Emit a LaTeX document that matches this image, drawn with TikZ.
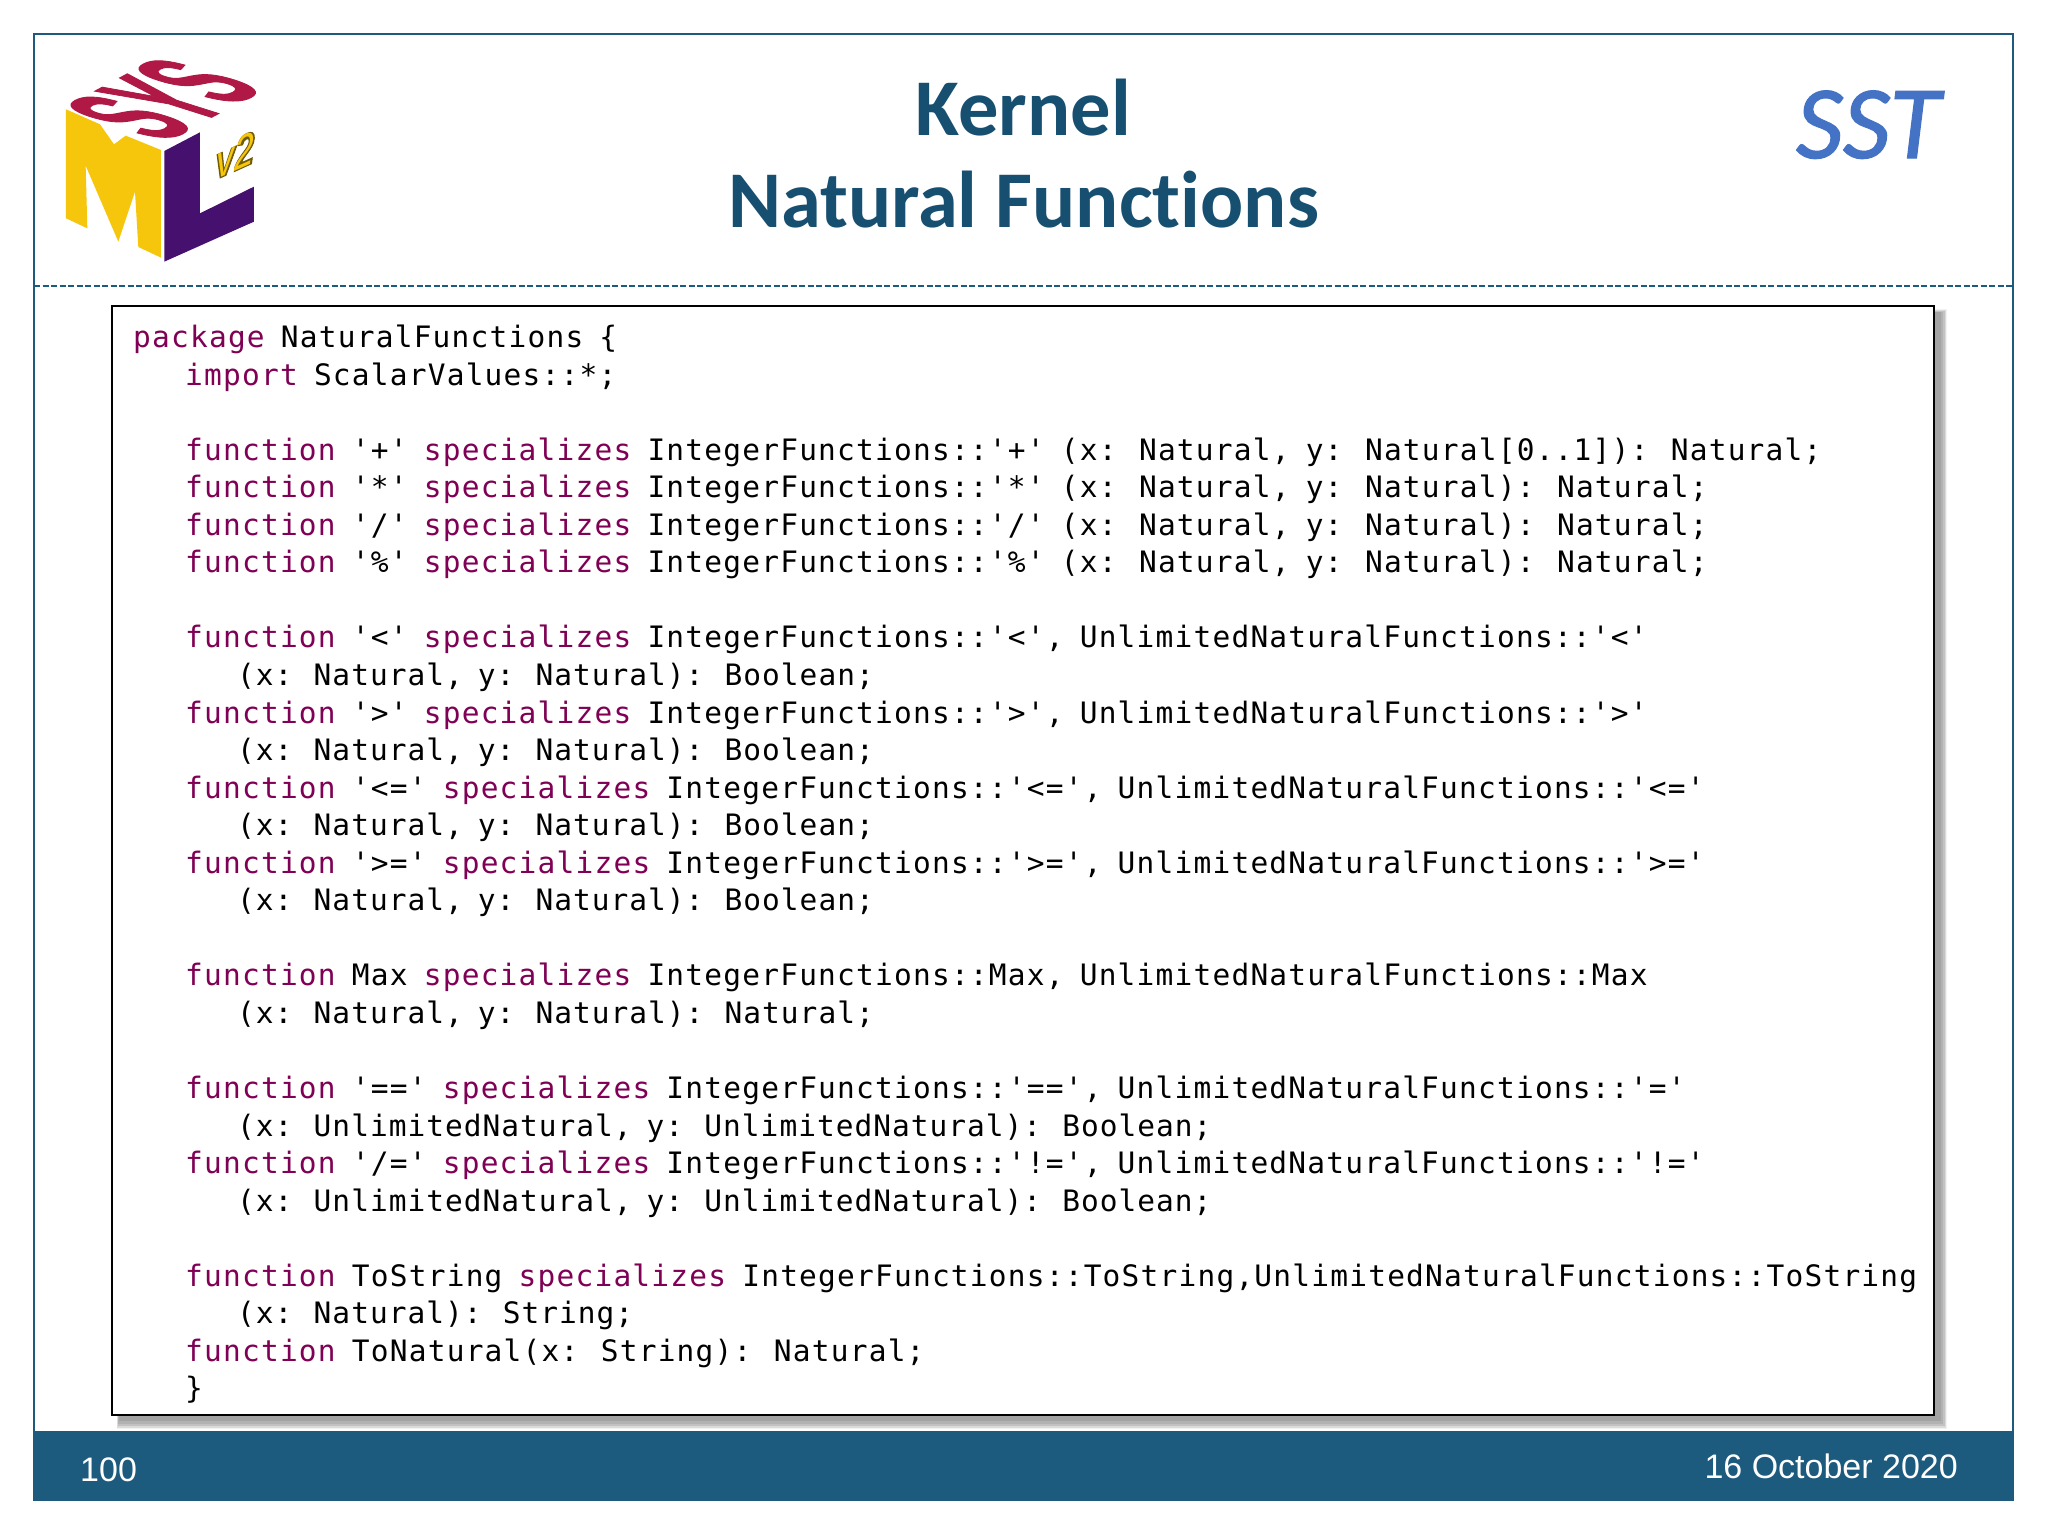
\documentclass[tikz,border=0pt]{standalone}
\usepackage{fontspec}
\setmainfont[Ligatures=CommonOff]{Carlito}
\newfontfamily\footfont{Liberation Sans}
\newfontfamily\logofont[BoldFeatures={FakeBold=1.8}]{Liberation Sans}
\newfontfamily\logofat[BoldItalicFeatures={FakeBold=3}]{Liberation Sans}
\newfontfamily\sstfont[ItalicFeatures={FakeBold=1.2}]{Carlito}
\newfontfamily\codefont[LetterSpace=4.1]{DejaVu Sans Mono}
\newfontfamily\codefontb[LetterSpace=3.4]{DejaVu Sans Mono}
\definecolor{slateblue}{HTML}{1C5A7E}
\definecolor{titleblue}{HTML}{174F71}
\definecolor{kwcolor}{HTML}{7F0055}
\definecolor{sstblue}{HTML}{4472C4}
\definecolor{symred}{HTML}{B01845}
\definecolor{symyellow}{HTML}{F5C60C}
\definecolor{sympurple}{HTML}{46106E}
\newcommand{\kw}[1]{\textcolor{kwcolor}{#1}}
\tikzset{
  codeline/.style={anchor=base west,inner sep=0pt,font=\codefont\fontsize{29.5}{30}\selectfont,text=black},
  contline/.style={anchor=base west,inner sep=0pt,font=\codefontb\fontsize{29.5}{30}\selectfont,text=black},
  titletext/.style={anchor=base,inner sep=0pt,font=\bfseries\fontsize{80.5}{82}\selectfont,text=titleblue},
  foottext/.style={inner sep=0pt,font=\footfont\fontsize{34}{36}\selectfont,text=white},
}
\begin{document}
\begin{tikzpicture}[x=1pt,y=-1pt]
\useasboundingbox (0,0) rectangle (2048,1536);
\fill[white] (0,0) rectangle (2048,1536);
% frame
\draw[slateblue,line width=1.8pt] (34,34) rectangle (2013,1500);
\draw[slateblue,line width=1.6pt,dash pattern=on 6pt off 2.5pt] (34,286) -- (2013,286);
\fill[slateblue] (33.5,1431) rectangle (2014,1501);
% code box shadow + box
\fill[black!5]  (117,309) rectangle (1947,1429);
\fill[black!14] (117,310) rectangle (1946,1428);
\fill[black!24] (118,311) rectangle (1945,1426);
\fill[black!30] (118,312) rectangle (1943,1424);
\fill[black!36] (119,312) rectangle (1941,1421);
\fill[white,draw=black,line width=2pt] (112,306) rectangle (1934,1415);
% logo
\begin{scope}[shift={(55,45)},x=0.3333pt,y=-0.3333pt]
\fill[symyellow] (33,193) -- (135,238) -- (177,298) -- (212,272) -- (318,315) -- (318,638) -- (250,606) -- (240,440) -- (190,590) -- (92,362) -- (97,550) -- (33,520) -- cycle;
\fill[sympurple] (328,318) -- (435,262) -- (435,505) -- (597,425) -- (597,530) -- (328,650) -- cycle;
\end{scope}
\begin{scope}[shift={(163,99)},cm={2.55,1.36,-7.46,2.36,(0,0)}]
\node[transform shape,inner sep=0pt,text=symred,font=\logofont\bfseries\fontsize{20}{20}\selectfont] (sys) at (0,0) {SYS};
\end{scope}
\begin{scope}[shift={(235,155)},cm={1.77,0.8,0,2.3,(0,0)}]
\node[transform shape,inner sep=0pt,text=black!55!symyellow,font=\logofat\bfseries\itshape\fontsize{20}{20}\selectfont] (v2b) at (0,0) {v2};
\node[transform shape,inner sep=0pt,text=symyellow,font=\logofont\mdseries\itshape\fontsize{20}{20}\selectfont] (v2) at (0,0) {v2};
\end{scope}
% title
\node[titletext] (t1) at (1023.5,135.5) {Kernel};
\node[titletext] (t2) at (1023.5,227.5) {Natural Functions};
\node[anchor=base,inner sep=0pt,font=\sstfont\itshape\fontsize{104}{104}\selectfont,text=sstblue] (sst) at (1868,158) {SST};
% footer
\node[foottext,anchor=base west] (pg) at (80,1481) {100};
\node[foottext,anchor=base east] (dt) at (1958,1478) {16 October 2020};
% code
\newcommand{\cl}[3]{\node[codeline] (line#1) at (#2,{347.5+37.55*(#1-1)}) {\spaceskip=16.2pt\relax #3};}
\newcommand{\cn}[2]{\node[contline] (line#1) at (237,{347.5+37.55*(#1-1)}) {\spaceskip=15pt\relax #2};}
\cl{1}{133}{\kw{package} NaturalFunctions \{}
\cl{2}{185}{\kw{import} ScalarValues::*;}
\cl{4}{185}{\kw{function} '+' \kw{specializes} IntegerFunctions::'+' (x: Natural, y: Natural[0..1]): Natural;}
\cl{5}{185}{\kw{function} '*' \kw{specializes} IntegerFunctions::'*' (x: Natural, y: Natural): Natural;}
\cl{6}{185}{\kw{function} '/' \kw{specializes} IntegerFunctions::'/' (x: Natural, y: Natural): Natural;}
\cl{7}{185}{\kw{function} '\%' \kw{specializes} IntegerFunctions::'\%' (x: Natural, y: Natural): Natural;}
\cl{9}{185}{\kw{function} '<' \kw{specializes} IntegerFunctions::'<', UnlimitedNaturalFunctions::'<'}
\cn{10}{(x: Natural, y: Natural): Boolean;}
\cl{11}{185}{\kw{function} '>' \kw{specializes} IntegerFunctions::'>', UnlimitedNaturalFunctions::'>'}
\cn{12}{(x: Natural, y: Natural): Boolean;}
\cl{13}{185}{\kw{function} '<=' \kw{specializes} IntegerFunctions::'<=', UnlimitedNaturalFunctions::'<='}
\cn{14}{(x: Natural, y: Natural): Boolean;}
\cl{15}{185}{\kw{function} '>=' \kw{specializes} IntegerFunctions::'>=', UnlimitedNaturalFunctions::'>='}
\cn{16}{(x: Natural, y: Natural): Boolean;}
\cl{18}{185}{\kw{function} Max \kw{specializes} IntegerFunctions::Max, UnlimitedNaturalFunctions::Max}
\cn{19}{(x: Natural, y: Natural): Natural;}
\cl{21}{185}{\kw{function} '==' \kw{specializes} IntegerFunctions::'==', UnlimitedNaturalFunctions::'='}
\cn{22}{(x: UnlimitedNatural, y: UnlimitedNatural): Boolean;}
\cl{23}{185}{\kw{function} '/=' \kw{specializes} IntegerFunctions::'!=', UnlimitedNaturalFunctions::'!='}
\cn{24}{(x: UnlimitedNatural, y: UnlimitedNatural): Boolean;}
\cl{26}{185}{\kw{function} ToString \kw{specializes} IntegerFunctions::ToString,UnlimitedNaturalFunctions::ToString}
\cn{27}{(x: Natural): String;}
\cl{28}{185}{\kw{function} ToNatural(x: String): Natural;}
\cl{29}{185}{\}}
\end{tikzpicture}
\end{document}
